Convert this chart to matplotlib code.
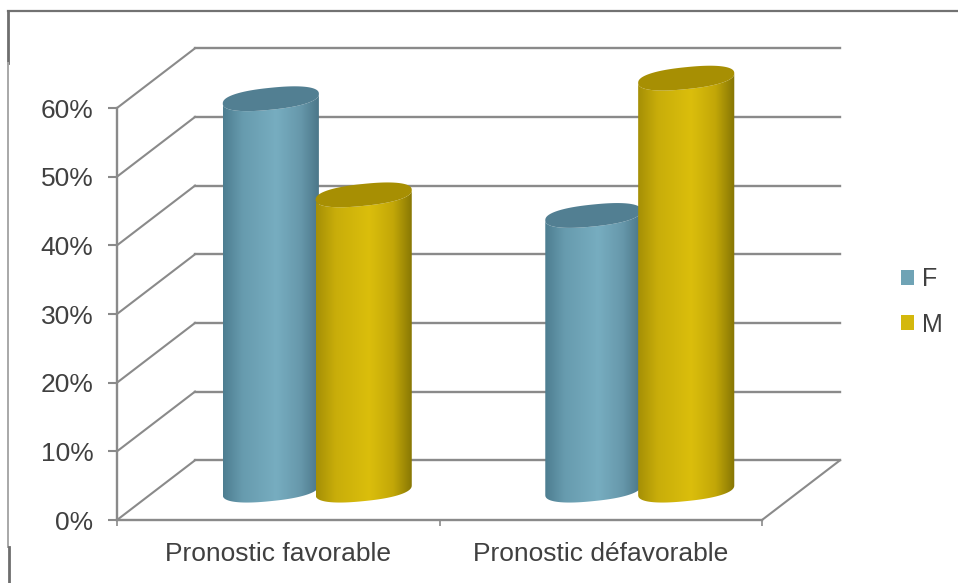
import numpy as np
import matplotlib
matplotlib.use('Agg')
import matplotlib.pyplot as plt
from matplotlib.colors import LinearSegmentedColormap
from matplotlib.lines import Line2D
from matplotlib.patches import Patch, Polygon

plt.rcParams['font.family'] = ['Liberation Sans', 'DejaVu Sans']

categories = ['Pronostic favorable', 'Pronostic défavorable']
series_names = ['F', 'M']
f_values = [57, 40]
m_values = [43, 60]
y_ticks = [0, 10, 20, 30, 40, 50, 60]

W, H = 958, 583
TEXT = '#404040'
GRID = '#8a8a8a'

# fake 3d: depth of the floor, in data units
depth_x = 0.242
depth_y = 8.7
bar_step = 0.288
bar_a = 0.149    # half width of a cylinder
bar_b = 1.6      # half height of its ellipse
bar_tilt = 0.7   # ellipse right side sits higher than left
bar_round = 0.85 # below 1 squares the ellipse off a little

ramps = {
    'F': [(0, '#4d7d90'), (0.2, '#679bae'), (0.55, '#77adc0'), (0.8, '#6798ab'), (1, '#4a7587')],
    'M': [(0, '#a58f06'), (0.2, '#c8ad0a'), (0.55, '#dbbe0c'), (0.8, '#c2a708'), (1, '#857504')],
}
top_colors = {'F': '#527f92', 'M': '#a78f03'}
legend_colors = {'F': '#6fa3b5', 'M': '#d4b80c'}

fig = plt.figure(figsize=(W / 100, H / 100), dpi=100, facecolor='white')
ax = fig.add_axes([117 / W, (H - 520) / H, (762 - 117) / W, (520 - 108) / H])
ax.set_xlim(0, 2)
ax.set_ylim(0, 60)
ax.patch.set_visible(False)


def ellipse(cx, cy, t):
    c = np.sign(np.cos(t)) * np.abs(np.cos(t)) ** bar_round
    s = np.sign(np.sin(t)) * np.abs(np.sin(t)) ** bar_round
    return np.column_stack([cx + bar_a * c, cy + bar_b * s + bar_tilt * c])


def cylinder(cx, value, name, z):
    base = depth_y / 2
    top = base + value
    t_front = np.linspace(np.pi, 2 * np.pi, 80)
    body = np.vstack([ellipse(cx, base, t_front), ellipse(cx, top, t_front[::-1])])
    clip = Polygon(body, closed=True, transform=ax.transData, facecolor='none', edgecolor='none')
    ax.add_patch(clip)
    cmap = LinearSegmentedColormap.from_list(name, ramps[name])
    im = ax.imshow(np.linspace(0, 1, 256).reshape(1, -1), cmap=cmap, aspect='auto',
                   extent=[cx - bar_a, cx + bar_a, base - bar_b - 1, top + bar_b + 1], zorder=z)
    im.set_clip_path(clip)
    im.set_clip_box(fig.bbox)
    t_all = np.linspace(0, 2 * np.pi, 160)
    ax.add_patch(Polygon(ellipse(cx, top, t_all), closed=True, facecolor=top_colors[name],
                         edgecolor='none', clip_on=False, zorder=z + 0.5))


# floor edges, side wall and back wall lines
for v in y_ticks:
    ax.plot([0, depth_x], [v, v + depth_y], color=GRID, lw=1.5, clip_on=False, zorder=1)
    ax.plot([depth_x, 2 + depth_x], [v + depth_y, v + depth_y], color=GRID, lw=1.7, clip_on=False, zorder=1)
ax.plot([2, 2 + depth_x], [0, depth_y], color=GRID, lw=1.5, clip_on=False, zorder=1)

for i in range(len(categories)):
    center = i + 0.5 + depth_x / 2
    cylinder(center - bar_step / 2, f_values[i], 'F', 3)
    cylinder(center + bar_step / 2, m_values[i], 'M', 4)

ax.set_xlim(0, 2)
ax.set_ylim(0, 60)

for s in ['top', 'right']:
    ax.spines[s].set_visible(False)
for s in ['left', 'bottom']:
    ax.spines[s].set_color(GRID)
    ax.spines[s].set_linewidth(1.7)
    ax.spines[s].set_zorder(2)

ax.set_yticks(y_ticks, labels=[f'{v}%' for v in y_ticks])
ax.tick_params(axis='y', length=6.5, width=1.5, color=GRID, pad=10.5, labelsize=19, labelcolor=TEXT)
ax.set_xticks([0, 1, 2], labels=['', '', ''])
ax.tick_params(axis='x', which='major', length=4.5, width=1.2, color=GRID)
ax.set_xticks([0.5, 1.5], labels=categories, minor=True)
ax.tick_params(axis='x', which='minor', length=0, pad=15.5, labelsize=19, labelcolor=TEXT)

handles = [Patch(facecolor=legend_colors[n], edgecolor='none', label=n) for n in series_names]
fig.legend(handles=handles, loc='center left', bbox_to_anchor=(901 / W, (H - 302) / H),
           frameon=False, fontsize=18, labelcolor=TEXT, borderpad=0, borderaxespad=0,
           handlelength=0.52, handleheight=0.52, handletextpad=0.3, labelspacing=0.84)

# outer frame, only partly drawn
def frame(xs, ys, color, lw):
    fig.add_artist(Line2D([x / W for x in xs], [(H - y) / H for y in ys], color=color, lw=lw))


frame([8, W], [11, 11], '#727272', 1.6)
frame([8, 8], [11, 63], '#6e6e6e', 2.0)
frame([8, 8], [63, 547], '#a8a8a8', 1.4)
frame([8.5, 8.5], [547, H], '#6e6e6e', 2.0)

fig.savefig('out.png', dpi=100, facecolor='white')
